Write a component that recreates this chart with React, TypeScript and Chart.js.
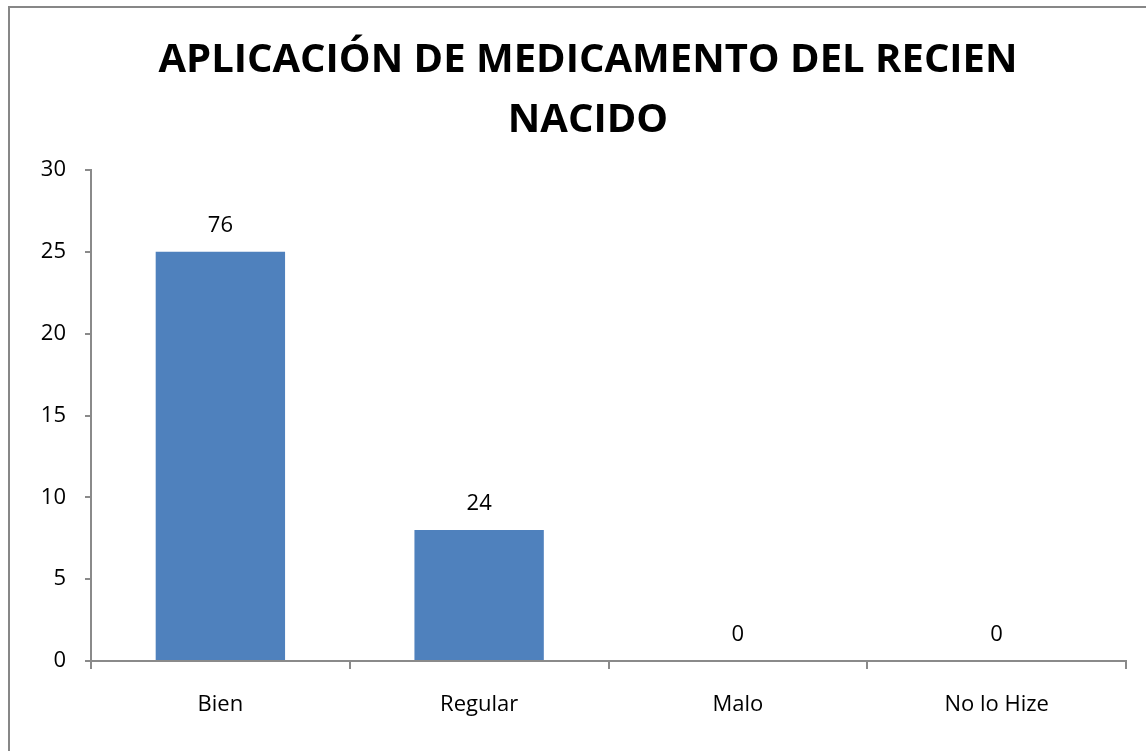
import React, { useEffect, useRef } from "react";
import { Chart, registerables } from "chart.js";

Chart.register(...registerables);

const TITLE_LINES = ["APLICACIÓN DE MEDICAMENTO DEL RECIEN", "NACIDO"];
const CATEGORIES = ["Bien", "Regular", "Malo", "No lo Hize"];
const VALUES = [25, 8, 0, 0];
const DATA_LABELS = ["76", "24", "0", "0"];
const Y_MIN = 0;
const Y_MAX = 30;
const Y_STEP = 5;

const AXIS_COLOR = "#8a8a8a";
const BAR_COLOR = "#4F81BD";
const FONT = "'Open Sans', 'DejaVu Sans', sans-serif";

const titlePlugin = {
  id: "customTitle",
  afterDraw(chart: any) {
    const ctx = chart.ctx;
    ctx.save();
    ctx.font = `bold 40px ${FONT}`;
    ctx.fillStyle = "#000";
    ctx.textAlign = "center";
    ctx.textBaseline = "alphabetic";
    const baselines = [72, 132];
    TITLE_LINES.forEach((line, i) => ctx.fillText(line, 588, baselines[i]));
    ctx.restore();
  },
};

const dataLabelPlugin = {
  id: "dataLabels",
  afterDatasetsDraw(chart: any) {
    const ctx = chart.ctx;
    const meta = chart.getDatasetMeta(0);
    ctx.save();
    ctx.font = `22px ${FONT}`;
    ctx.fillStyle = "#000";
    ctx.textAlign = "center";
    ctx.textBaseline = "middle";
    meta.data.forEach((bar: any, i: number) => {
      ctx.fillText(DATA_LABELS[i], bar.x, bar.y - 26);
    });
    ctx.restore();
  },
};

export default function App() {
  const canvasRef = useRef<HTMLCanvasElement | null>(null);

  useEffect(() => {
    if (!canvasRef.current) return;
    const chart = new Chart(canvasRef.current, {
      type: "bar",
      data: {
        labels: CATEGORIES,
        datasets: [
          {
            data: VALUES,
            backgroundColor: BAR_COLOR,
            borderWidth: 0,
            barPercentage: 0.5,
            categoryPercentage: 1,
          },
        ],
      },
      options: {
        responsive: false,
        animation: false,
        layout: { padding: { top: 170, right: 20, bottom: 0, left: 0 } },
        plugins: {
          legend: { display: false },
          title: { display: false },
          tooltip: { enabled: false },
        },
        scales: {
          x: {
            grid: {
              display: true,
              drawOnChartArea: false,
              drawTicks: true,
              tickLength: 8,
              color: AXIS_COLOR,
              lineWidth: 2,
              offset: true,
            },
            border: { display: true, color: AXIS_COLOR, width: 2 },
            ticks: {
              color: "#000",
              font: { family: FONT, size: 22 },
              padding: 23,
              maxRotation: 0,
            },
            afterFit(scale: any) {
              scale.height = 90;
            },
          },
          y: {
            min: Y_MIN,
            max: Y_MAX,
            ticks: {
              stepSize: Y_STEP,
              color: "#000",
              font: { family: FONT, size: 22 },
              padding: 19,
            },
            grid: {
              display: true,
              drawOnChartArea: false,
              drawTicks: true,
              tickLength: 6,
              color: AXIS_COLOR,
              lineWidth: 2,
            },
            border: { display: true, color: AXIS_COLOR, width: 2 },
            afterFit(scale: any) {
              scale.width = 91;
            },
          },
        },
      },
      plugins: [titlePlugin, dataLabelPlugin],
    });
    return () => chart.destroy();
  }, []);

  return (
    <div
      style={{
        position: "fixed",
        left: 0,
        top: 0,
        width: 1146,
        height: 751,
        overflow: "hidden",
        background: "#fff",
      }}
    >
      <div
        style={{
          position: "absolute",
          left: 8,
          top: 6,
          width: 1300,
          height: 900,
          border: "2px solid #878787",
          boxSizing: "border-box",
        }}
      />
      <canvas
        ref={canvasRef}
        width={1146}
        height={751}
        style={{ position: "absolute", left: 0, top: 0, width: 1146, height: 751 }}
      />
    </div>
  );
}
